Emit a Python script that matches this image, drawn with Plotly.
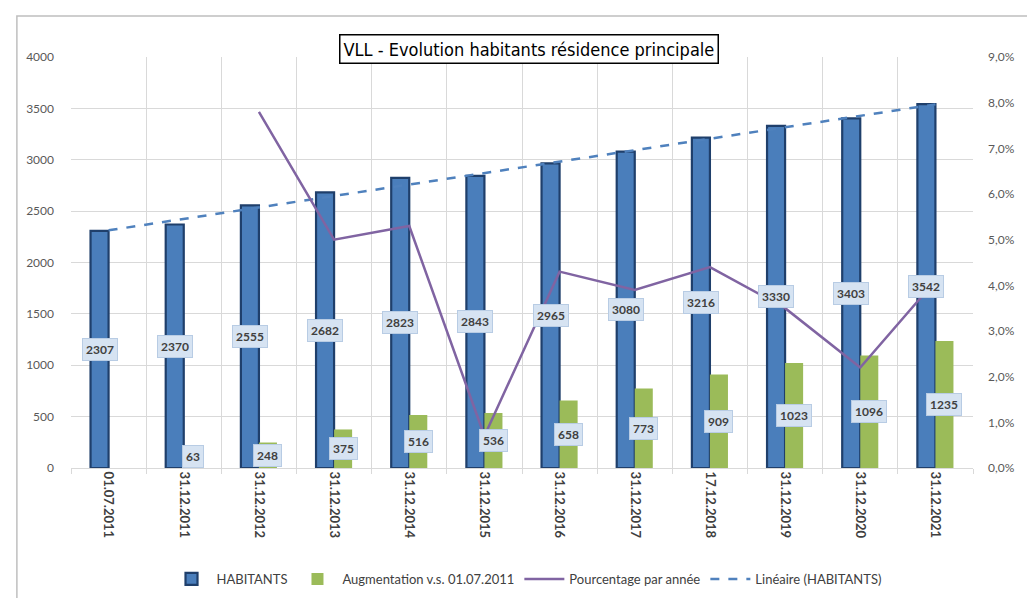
import plotly.graph_objects as go

categories = ["01.07.2011", "31.12.2011", "31.12.2012", "31.12.2013", "31.12.2014",
              "31.12.2015", "31.12.2016", "31.12.2017", "17.12.2018", "31.12.2019",
              "31.12.2020", "31.12.2021"]
habitants = [2307, 2370, 2555, 2682, 2823, 2843, 2965, 3080, 3216, 3330, 3403, 3542]
augmentation = [None, 63, 248, 375, 516, 536, 658, 773, 909, 1023, 1096, 1235]
pourcentage = [None, None, 7.8, 5.0, 5.3, 0.7, 4.3, 3.9, 4.4, 3.5, 2.2, 4.1]
trend_ends = [2313, 3539]
left_ticks = [0, 500, 1000, 1500, 2000, 2500, 3000, 3500, 4000]
right_ticks = [0, 1, 2, 3, 4, 5, 6, 7, 8, 9]
right_labels = ["0,0%", "1,0%", "2,0%", "3,0%", "4,0%", "5,0%", "6,0%", "7,0%", "8,0%", "9,0%"]

idx = list(range(len(categories)))
BW = 0.24
FONT = "Lato"

fig = go.Figure()
fig.add_trace(go.Bar(
    x=idx, y=habitants, name="HABITANTS", width=BW, offset=-BW,
    marker=dict(color="#4a7ebb", line=dict(color="#1f3f6b", width=2.2)),
))
fig.add_trace(go.Bar(
    x=idx, y=augmentation, name="Augmentation v.s. 01.07.2011", width=BW, offset=0,
    marker=dict(color="#9bbb59", line=dict(width=0)),
))
fig.add_trace(go.Scatter(
    x=idx, y=pourcentage, name="Pourcentage par année", mode="lines",
    line=dict(color="#8064a2", width=2.5), yaxis="y2", connectgaps=False,
))
fig.add_trace(go.Scatter(
    x=[idx[0], idx[-1]], y=trend_ends, name="Linéaire (HABITANTS)", mode="lines",
    line=dict(color="#4f81bd", width=2.5, dash="dash"),
))

annotations = []
box = dict(bgcolor="#d6e3f2", bordercolor="#b8cce4", borderwidth=1, borderpad=3,
           font=dict(family=FONT, size=12, color="#404040"), showarrow=False)
for i, v in zip(idx, habitants):
    annotations.append(dict(x=i - BW / 2, y=v / 2, xref="x", yref="y",
                            text="<b>%d</b>" % v, **box))
for i, v in zip(idx, augmentation):
    if v is None:
        continue
    annotations.append(dict(x=i + BW / 2, y=max(v / 2, 110), xref="x", yref="y",
                            text="<b>%d</b>" % v, **box))

annotations.append(dict(
    x=0.508, y=1.055, xref="paper", yref="paper", showarrow=False,
    text="VLL - Evolution habitants résidence principale",
    font=dict(family="DejaVu Sans Condensed, Liberation Sans Narrow, Open Sans, sans-serif",
              size=18, color="#000000"),
    bgcolor="#ffffff", bordercolor="#000000", borderwidth=1.5, borderpad=3,
))

fig.update_layout(
    width=1035, height=598,
    margin=dict(l=63, r=70, t=49, b=131),
    paper_bgcolor="#ffffff", plot_bgcolor="#ffffff",
    barmode="overlay",
    showlegend=True,
    legend=dict(orientation="h", x=0.505, xanchor="center", y=-0.27, yanchor="middle",
                font=dict(family=FONT, size=13, color="#404040"),
                traceorder="normal", itemwidth=40),
    annotations=annotations,
    xaxis=dict(
        range=[-0.5, len(categories) - 0.5],
        tickmode="array", tickvals=idx, ticktext=["<b>%s</b>" % c for c in categories],
        tickangle=90, ticks="", showgrid=False, zeroline=False,
        tickfont=dict(family=FONT, size=13, color="#404040"),
        showline=True, linecolor="#d9d9d9", linewidth=1,
        minor=dict(tickmode="linear", tick0=-0.5, dtick=1, showgrid=True,
                   gridcolor="#d9d9d9", gridwidth=1, ticks="outside", ticklen=5,
                   tickcolor="#d9d9d9"),
    ),
    yaxis=dict(
        range=[0, 4000], tickmode="array", tickvals=left_ticks,
        showgrid=True, gridcolor="#d9d9d9", gridwidth=1, zeroline=False,
        tickfont=dict(family=FONT, size=12, color="#595959"),
        ticks="", ticklabelstandoff=16,
    ),
    yaxis2=dict(
        range=[0, 9], overlaying="y", side="right", tickmode="array",
        tickvals=right_ticks, ticktext=right_labels,
        showgrid=False, zeroline=False,
        tickfont=dict(family=FONT, size=12, color="#595959"),
        ticklabelstandoff=14,
    ),
    shapes=[dict(type="rect", xref="paper", yref="paper",
                 x0=-0.060, x1=1.070, y0=-0.33, y1=1.100,
                 line=dict(color="#bfbfbf", width=1.5), fillcolor="rgba(0,0,0,0)",
                 layer="below")],
)

fig.write_html("out.html")
